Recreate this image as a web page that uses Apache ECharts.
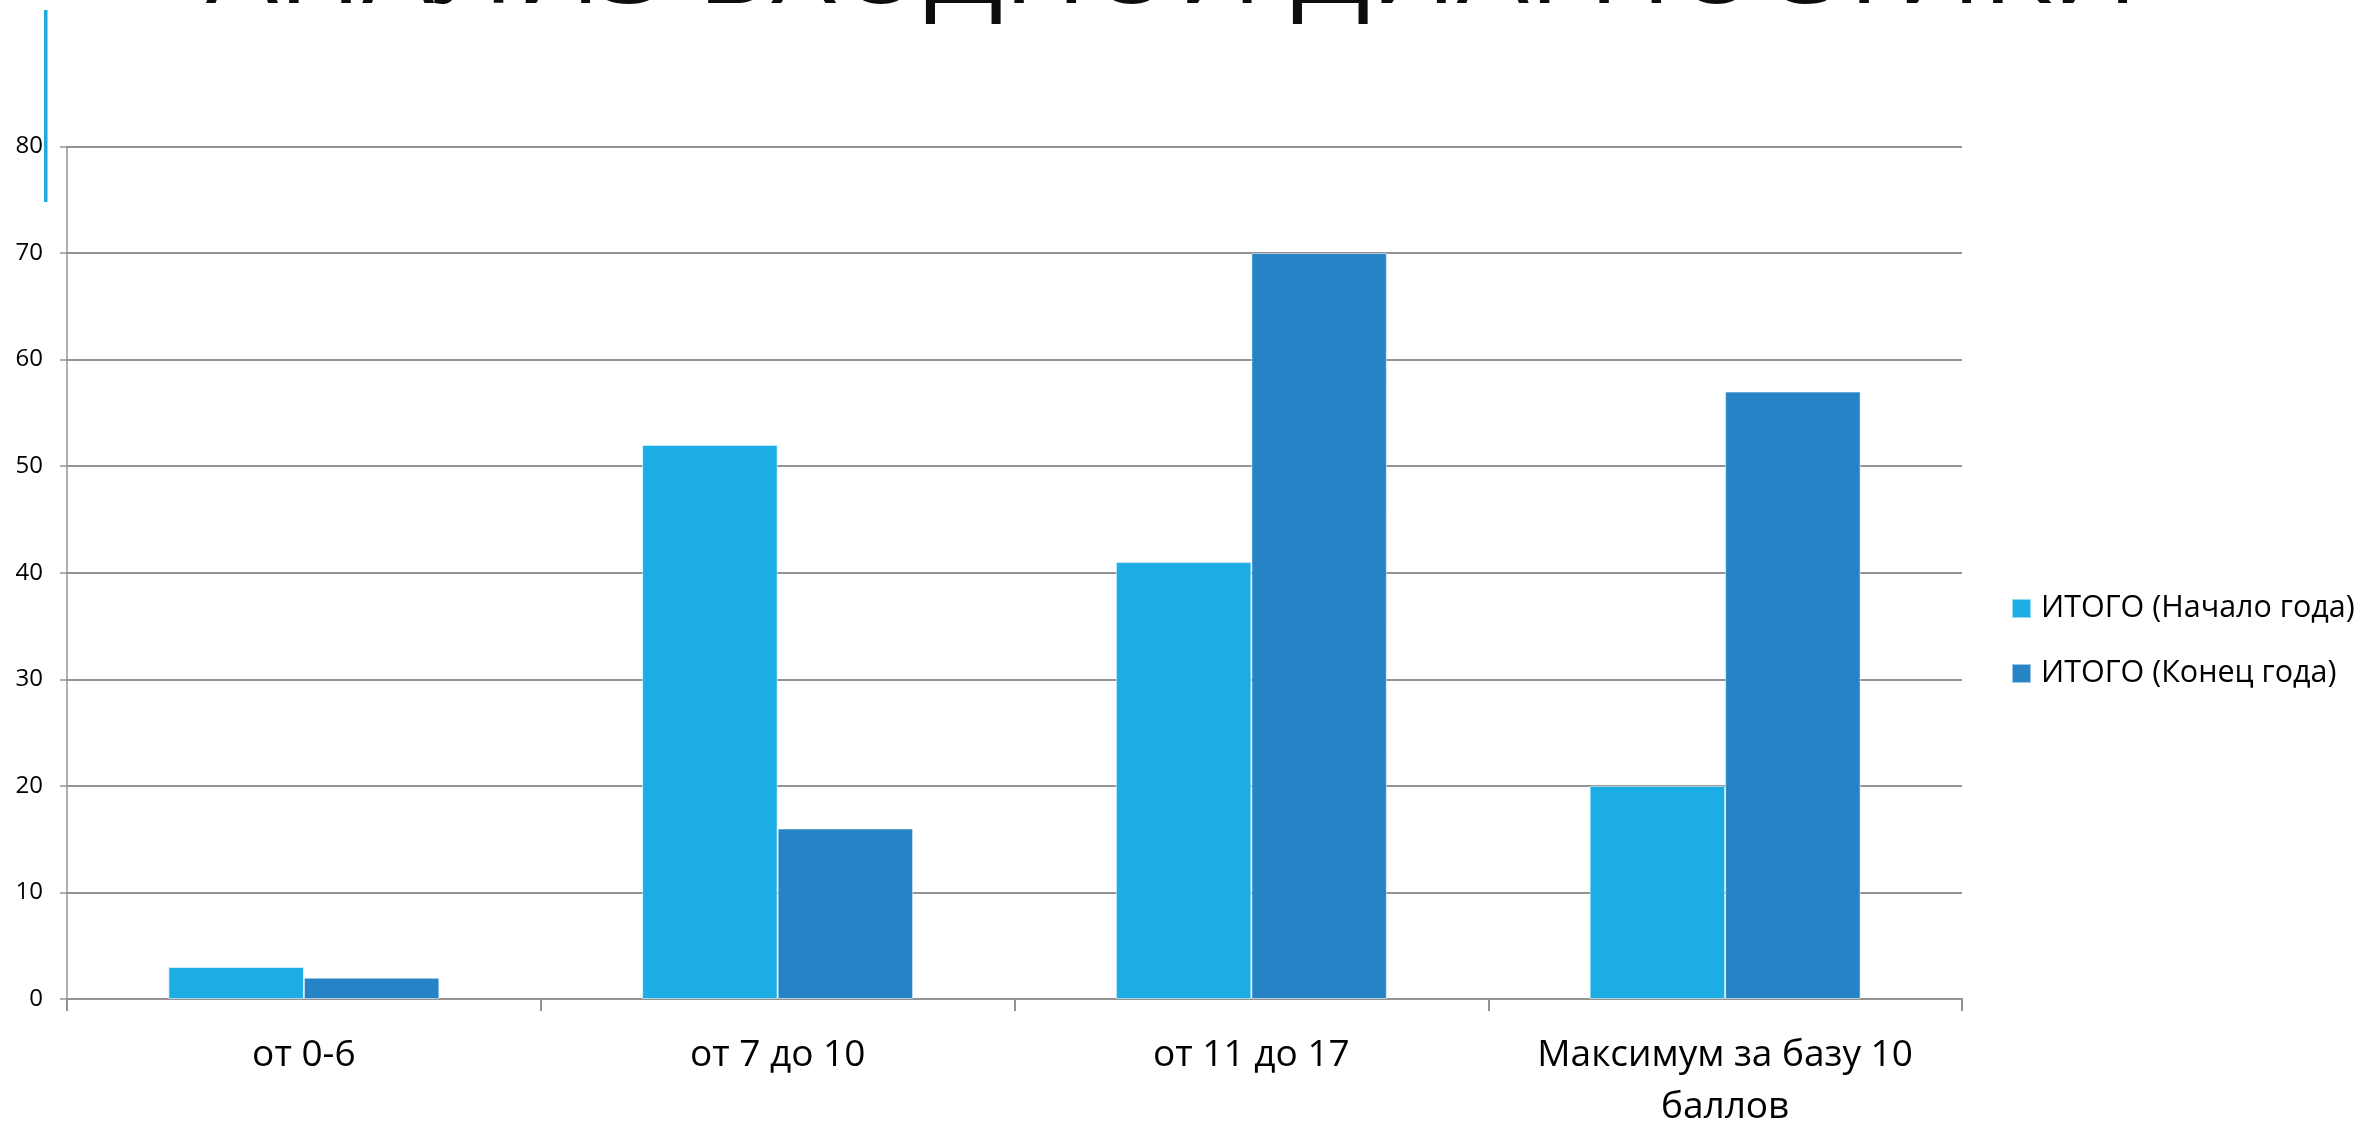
<!DOCTYPE html>
<html>
<head>
<meta charset="utf-8">
<title>Анализ входной диагностики</title>
<script src="https://cdn.jsdelivr.net/npm/echarts@6/dist/echarts.min.js"></script>
<style>
  html, body { margin: 0; padding: 0; background: #fff; }
  #chart { width: 2369px; height: 1121px; }
</style>
</head>
<body>
<div id="chart"></div>
<script>
// данные диаграммы
const categories = ['от 0-6', 'от 7 до 10', 'от 11 до 17', 'Максимум за базу 10\nбаллов']
const seriesNames = ['ИТОГО (Начало года)', 'ИТОГО (Конец года)']
const startYear = [3, 52, 41, 20]
const endYear = [2, 16, 70, 57]
const yTicks = { min: 0, max: 80, step: 10 }

const colors = ['#1cade4', '#2683c6']
const gridColor = '#939393'
const font = '"Open Sans", "Noto Sans", sans-serif'

const chart = echarts.init(document.getElementById('chart'))

chart.setOption({
  animation: false,
  color: colors,
  graphic: [
    // заголовок слайда (обрезан сверху)
    {
      type: 'text',
      left: 206,
      top: -86,
      style: {
        text: 'АНАЛИЗ ВХОДНОЙ ДИАГНОСТИКИ',
        fontSize: 114,
        fontFamily: font,
        fill: '#0d0d0d'
      }
    },
    // голубая полоска слева
    {
      type: 'rect',
      shape: { x: 44, y: 10, width: 3.5, height: 192 },
      style: { fill: '#1ea9e1' }
    }
  ],
  legend: {
    orient: 'vertical',
    left: 2006,
    top: 588,
    itemWidth: 19,
    itemHeight: 19,
    itemGap: 34,
    icon: 'rect',
    data: seriesNames,
    textStyle: {
      fontFamily: font,
      fontSize: 30.5,
      lineHeight: 30,
      color: '#000',
      padding: [0, 0, 0, 5]
    }
  },
  grid: {
    left: 67,
    right: 407,
    top: 146.5,
    bottom: 122,
    containLabel: false,
    outerBoundsMode: 'none'
  },
  xAxis: {
    type: 'category',
    data: categories,
    axisLine: { lineStyle: { color: gridColor, width: 2 } },
    axisTick: { show: true, interval: 0, length: 12, lineStyle: { color: gridColor, width: 2 } },
    axisLabel: {
      interval: 0,
      fontFamily: font,
      fontSize: 37,
      lineHeight: 52,
      color: '#000',
      margin: 30,
      align: 'center',
      verticalAlign: 'top'
    }
  },
  yAxis: {
    type: 'value',
    min: yTicks.min,
    max: yTicks.max,
    interval: yTicks.step,
    axisLine: { show: true, lineStyle: { color: gridColor, width: 1.5 } },
    axisTick: { show: true, length: 7, lineStyle: { color: gridColor, width: 1.5 } },
    axisLabel: {
      fontFamily: font,
      fontSize: 24,
      color: '#000',
      margin: 24
    },
    splitLine: { lineStyle: { color: gridColor, width: 2 } }
  },
  series: [
    {
      name: seriesNames[0],
      type: 'bar',
      data: startYear,
      barWidth: '28.6%',
      barGap: '0%',
      itemStyle: { borderColor: 'rgba(255,255,255,0.55)', borderWidth: 1 }
    },
    {
      name: seriesNames[1],
      type: 'bar',
      data: endYear,
      barWidth: '28.6%',
      barGap: '0%',
      itemStyle: { borderColor: 'rgba(255,255,255,0.55)', borderWidth: 1 }
    }
  ]
})
</script>
</body>
</html>
